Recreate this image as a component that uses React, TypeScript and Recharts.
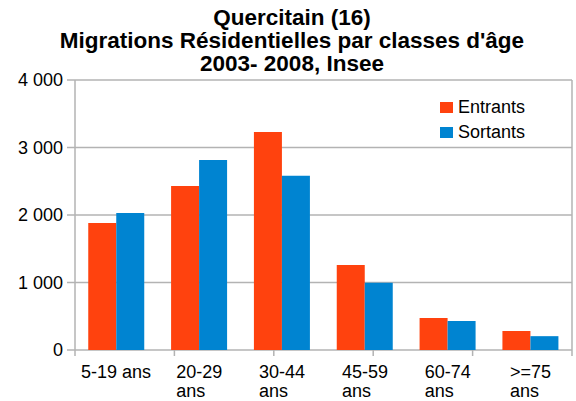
import { BarChart, Bar, XAxis, YAxis, CartesianGrid } from 'recharts';

const categories = ['5-19 ans', '20-29 ans', '30-44 ans', '45-59 ans', '60-74 ans', '>=75 ans'];
const tickLabels = ['5-19 ans', '20-29\nans', '30-44\nans', '45-59\nans', '60-74\nans', '>=75\nans'];
const entrants = [1880, 2430, 3230, 1260, 475, 280];
const sortants = [2030, 2815, 2580, 995, 430, 205];
const yTicks = [0, 1000, 2000, 3000, 4000];
const edgeTicks = [0, 1, 2, 3, 4, 5, 6];

const data = categories.map((c, i) => ({ name: c, Entrants: entrants[i], Sortants: sortants[i] }));

const FONT = '"Liberation Sans", Arial, sans-serif';
const GRID = '#b3b3b3';
const ORANGE = '#ff420e';
const BLUE = '#0084d1';

// rough Arial widths, em units
const charW = (ch: string) => {
  if ('0123456789'.includes(ch)) return 0.556;
  if (ch === '-') return 0.333;
  if (ch === '>' || ch === '=') return 0.584;
  if (ch === ' ') return 0.278;
  return 0.556;
};

const XTick = (props: any) => {
  const { x, y, index } = props;
  const lines = tickLabels[index].split('\n');
  const w = lines[0].split('').reduce((s, c) => s + charW(c), 0) * 18;
  const left = x - w / 2;
  return (
    <text x={left} y={y + 19} fontSize={18} fontFamily={FONT} fill="#000" textAnchor="start">
      {lines.map((l, i) => (
        <tspan key={i} x={left} dy={i === 0 ? 0 : 18.5}>{l}</tspan>
      ))}
    </text>
  );
};

const EdgeTick = () => <g />;

const App = () => {
  return (
    <div style={{ position: 'absolute', left: 0, top: 0, width: 576, height: 401, background: '#fff' }}>
      <div
        style={{
          position: 'absolute', left: 4, top: 6, width: 576, textAlign: 'center',
          fontFamily: FONT, fontWeight: 'bold', fontSize: 22.5, lineHeight: '23px', color: '#000', zIndex: 2,
        }}
      >
        <div>Quercitain (16)</div>
        <div>Migrations Résidentielles par classes d'âge</div>
        <div>2003- 2008, Insee</div>
      </div>
      <div style={{ position: 'absolute', left: 440, top: 95, fontFamily: FONT, fontSize: 18, color: '#000', zIndex: 2 }}>
        {[['Entrants', ORANGE], ['Sortants', BLUE]].map(([n, c]) => (
          <div key={n} style={{ display: 'flex', alignItems: 'center', height: 25 }}>
            <span style={{ width: 13, height: 11, background: c, marginRight: 5, display: 'inline-block' }} />
            <span>{n}</span>
          </div>
        ))}
      </div>
      <BarChart
        width={576}
        height={401}
        data={data}
        margin={{ top: 80, right: 3, bottom: 0, left: 0 }}
        barCategoryGap="16%"
        barGap={0}
      >
        <CartesianGrid xAxisId="b" yAxisId="left" vertical={false} stroke={GRID} strokeWidth={1.5} />
        <XAxis
          xAxisId="a"
          type="number"
          domain={[0, 6]}
          ticks={edgeTicks}
          interval={0}
          height={1}
          axisLine={false}
          tickSize={6}
          tickLine={{ stroke: GRID, strokeWidth: 1.5 }}
          tick={<EdgeTick />}
        />
        <XAxis
          xAxisId="b"
          dataKey="name"
          height={50}
          interval={0}
          tickLine={false}
          axisLine={false}
          tick={<XTick />}
        />
        <YAxis
          yAxisId="left"
          width={75}
          domain={[0, 4000]}
          ticks={yTicks}
          tickSize={8}
          tickMargin={4}
          tickFormatter={(v: number) => (v === 0 ? '0' : `${v / 1000} 000`)}
          tick={{ fontSize: 18, fontFamily: FONT, fill: '#000' }}
          tickLine={{ stroke: GRID, strokeWidth: 1.5 }}
          axisLine={{ stroke: GRID, strokeWidth: 1.5 }}
        />
        <YAxis
          yAxisId="right"
          orientation="right"
          width={1}
          domain={[0, 4000]}
          ticks={yTicks}
          tick={false}
          tickLine={false}
          axisLine={{ stroke: GRID, strokeWidth: 1.5 }}
        />
        <Bar xAxisId="b" yAxisId="left" dataKey="Entrants" fill={ORANGE} isAnimationActive={false} />
        <Bar xAxisId="b" yAxisId="left" dataKey="Sortants" fill={BLUE} isAnimationActive={false} />
      </BarChart>
    </div>
  );
};

export default App;
